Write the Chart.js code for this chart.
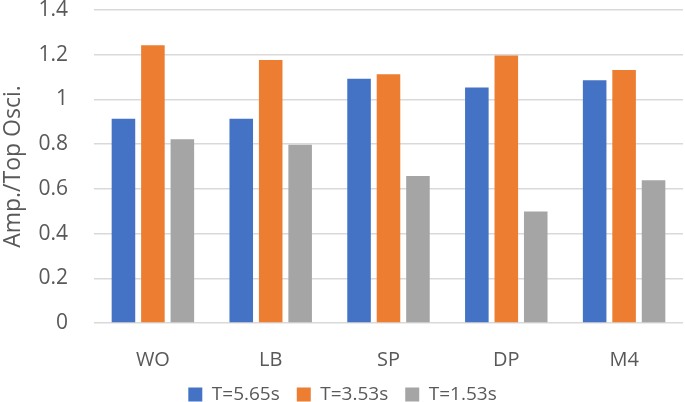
<!DOCTYPE html>
<html>
<head>
<meta charset="utf-8">
<script src="https://cdn.jsdelivr.net/npm/chart.js@4"></script>
<style>
  html, body { margin: 0; padding: 0; background: #fff; }
  #wrap { width: 685px; height: 402px; }
</style>
</head>
<body>
<div id="wrap"><canvas id="myChart"></canvas></div>
<script>
const categories = ["WO", "LB", "SP", "DP", "M4"];
const seriesNames = ["T=5.65s", "T=3.53s", "T=1.53s"];
const t565 = [0.914, 0.914, 1.092, 1.053, 1.086];
const t353 = [1.242, 1.176, 1.113, 1.197, 1.132];
const t153 = [0.822, 0.797, 0.658, 0.499, 0.639];
const yTicks = [0, 0.2, 0.4, 0.6, 0.8, 1, 1.2, 1.4];

const barColors = ["#4472C4", "#ED7D31", "#A5A5A5"];
const textColor = "#595959";
const fontFamily = "'Open Sans', 'Liberation Sans', sans-serif";

new Chart("myChart", {
  type: "bar",
  data: {
    labels: categories,
    datasets: [t565, t353, t153].map((vals, i) => ({
      label: seriesNames[i],
      data: vals,
      backgroundColor: barColors[i],
      borderWidth: 0,
      categoryPercentage: 0.75,
      barPercentage: 0.8,
    })),
  },
  options: {
    responsive: true,
    maintainAspectRatio: false,
    animation: false,
    layout: {
      padding: { top: 0, right: 2, bottom: -12, left: 2 },
    },
    scales: {
      x: {
        grid: { display: false, drawTicks: false },
        border: { display: false },
        ticks: {
          color: textColor,
          padding: 25,
          font: { family: fontFamily, size: 20 },
        },
        // fixed height so the plot bottom sits where the reference has it
        afterFit: (scale) => {
          scale.height = 45;
        },
      },
      y: {
        min: 0,
        max: 1.4,
        afterBuildTicks: (axis) => {
          axis.ticks = yTicks.map((v) => ({ value: v }));
        },
        grid: {
          color: "#d9d9d9",
          lineWidth: 1.5,
          drawTicks: false,
        },
        border: { display: false },
        ticks: {
          color: textColor,
          padding: 26,
          font: { family: fontFamily, size: 21 },
          callback: (value) => String(value),
        },
        title: {
          display: true,
          text: "Amp./Top Osci.",
          color: textColor,
          padding: 0,
          font: { family: fontFamily, size: 23, lineHeight: 1 },
        },
        afterFit: (scale) => {
          scale.width = 92;
          scale.paddingTop = 10;
          scale.paddingBottom = 0;
        },
      },
    },
    plugins: {
      legend: {
        position: "bottom",
        labels: {
          color: textColor,
          boxWidth: 14,
          boxHeight: 14,
          padding: 17,
          font: { family: fontFamily, size: 19 },
        },
      },
      tooltip: { enabled: false },
    },
  },
});
</script>
</body>
</html>
